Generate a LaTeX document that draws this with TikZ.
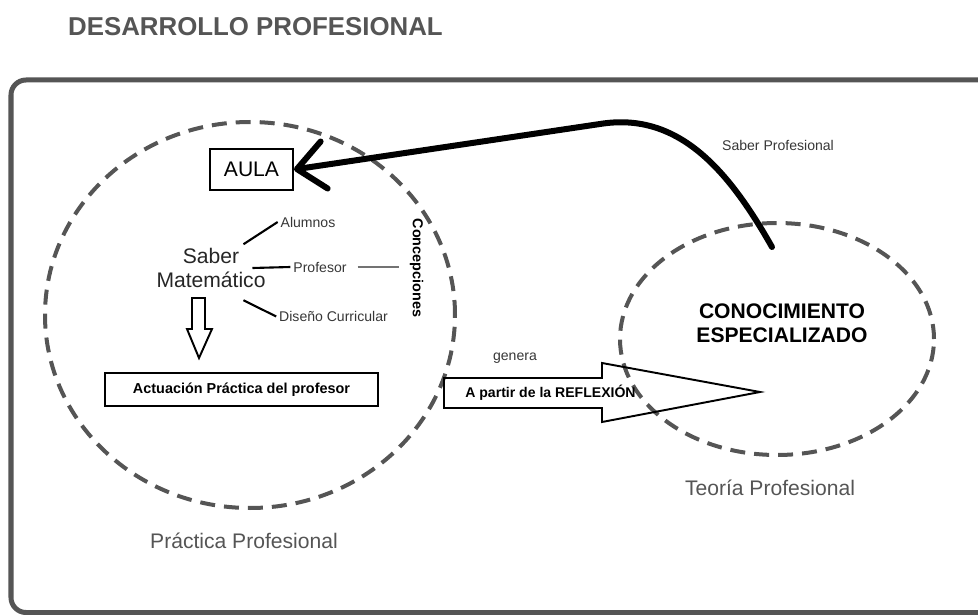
\documentclass[tikz,border=0pt]{standalone}
\usepackage{fontspec}
\setmainfont{Liberation Sans}
\usepackage{xcolor}
\usepackage{tikz}
\usetikzlibrary{arrows.meta,positioning,shapes.geometric,calc}
\definecolor{framegray}{RGB}{85,85,85}
\definecolor{labelgray}{RGB}{55,55,55}

\begin{document}
\begin{tikzpicture}[
    zone/.style={ellipse, draw=framegray, line width=0.08cm, dash pattern=on 0.3cm off 0.18cm, inner sep=0pt},
    box/.style={draw=black, line width=1.1pt, inner sep=0pt},
    small/.style={font=\fontsize{8}{9.6}\selectfont, text=labelgray, inner sep=1.5pt},
    caption/.style={font=\fontsize{12}{14}\selectfont, text=framegray},
    link/.style={line width=1.2pt, draw=black},
    hollow/.style={draw=black, line width=1.1pt, line join=miter},
    bigarrow/.style={-{Straight Barb[length=0.55cm,width=0.95cm,round]}, line width=0.12cm, line cap=round, line join=round}
]
    \useasboundingbox (0,0) rectangle (19.56,-12.3);

    % Title and frame
    \node[font=\fontsize{14.7}{17}\selectfont\bfseries, text=framegray] (title) at (5.11,-0.54) {DESARROLLO PROFESIONAL};
    \draw[framegray, line width=0.1cm, rounded corners=0.3cm] (0.22,-1.6) rectangle (20.5,-12.25);

    % Zones
    \node[zone, minimum width=8.2cm, minimum height=7.72cm] (practica) at (5.0,-6.3) {};
    \node[zone, minimum width=6.28cm, minimum height=4.64cm] (teoria) at (15.54,-6.78) {};
    \node[caption] (practicalbl) at (4.88,-10.82) {Práctica Profesional};
    \node[caption] (teorialbl) at (15.4,-9.76) {Teoría Profesional};

    % Practice side
    \node[box, minimum width=1.66cm, minimum height=0.82cm, font=\fontsize{12}{14}\selectfont] (aula) at (5.03,-3.39) {AULA};
    \node[align=center, font=\fontsize{12}{13.7}\selectfont, text=black!85, inner sep=1.5pt] (saber) at (4.22,-5.36) {Saber\\Matemático};
    \node[small] (alumnos) at (6.16,-4.44) {Alumnos};
    \node[small] (profesor) at (6.4,-5.34) {Profesor};
    \node[small] (diseno) at (6.67,-6.33) {Diseño Curricular};
    \node[font=\fontsize{8.2}{10}\selectfont\bfseries, rotate=-90] (concep) at (8.33,-5.36) {Concepciones};

    \draw[link] ([shift={(-0.5,0.02)}]saber.north east) -- (alumnos.west);
    \draw[link] ([xshift=-0.32cm]saber.east) -- (profesor.west);
    \draw[link] ([shift={(-0.5,-0.19)}]saber.south east) -- (diseno.west);
    \draw[labelgray!70, line width=0.6pt] ([xshift=0.16cm]profesor.east) -- ([xshift=-0.1cm]profesor.east -| concep.south);

    \draw[hollow] (3.84,-5.96) -- (3.84,-6.58) -- (3.74,-6.58) -- (3.98,-7.16) -- (4.24,-6.58) -- (4.10,-6.58) -- (4.10,-5.96) -- cycle;
    \node[box, minimum width=5.46cm, minimum height=0.66cm, font=\fontsize{8.2}{10}\selectfont\bfseries] (actuacion) at (4.83,-7.79) {Actuación Práctica del profesor};

    % Reflection arrow
    \draw[hollow] (8.88,-7.56) -- (12.04,-7.56) -- (12.04,-7.26) -- (15.2,-7.84) -- (12.04,-8.44) -- (12.04,-8.16) -- (8.88,-8.16) -- cycle;
    \node[font=\fontsize{8}{10}\selectfont\bfseries] (reflexion) at (11.01,-7.86) {A partir de la REFLEXIÓN};
    \node[small] (genera) at (10.3,-7.16) {genera};

    % Theory side
    \node[align=center, font=\fontsize{12}{13.7}\selectfont\bfseries] (conoc) at (15.64,-6.47) {CONOCIMIENTO\\ESPECIALIZADO};
    \node[small] (saberprof) at (15.56,-2.9) {Saber Profesional};

    \coordinate (src) at (15.44,-4.94);
    \draw[bigarrow] (src) .. controls (14.6,-3.46) and (13.6,-2.22) .. (12.0,-2.48) -- (aula.east);

\end{tikzpicture}
\end{document}
